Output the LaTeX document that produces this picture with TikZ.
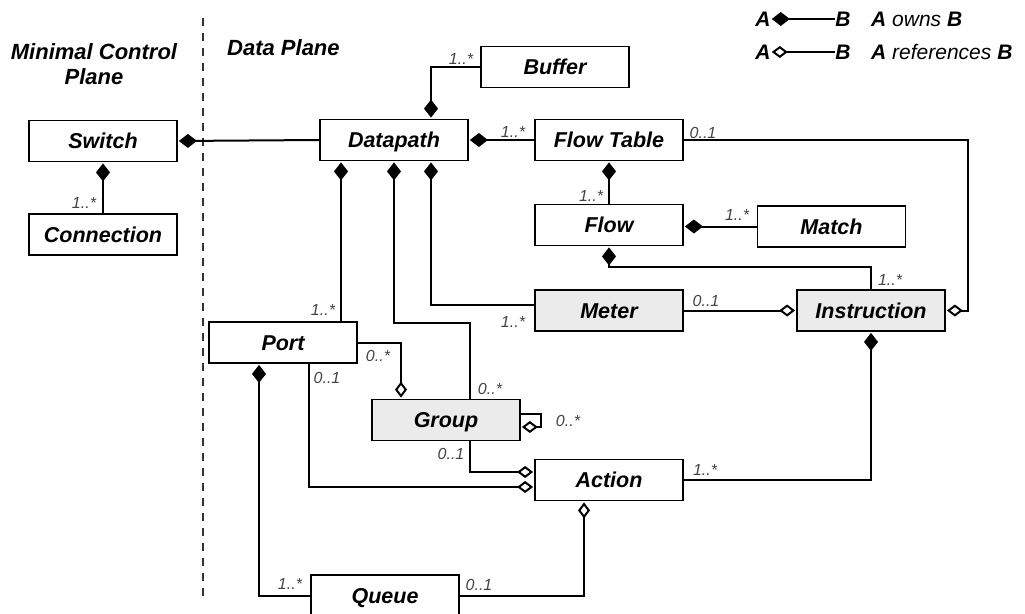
\documentclass[tikz,border=0pt]{standalone}
\usepackage{fontspec}
\setmainfont{Liberation Sans}
\usetikzlibrary{arrows.meta,calc}
\definecolor{boxgray}{HTML}{EBEBEB}
\definecolor{labgray}{HTML}{444444}
\tikzset{
  cls/.style={draw, line width=1.8pt, minimum width=148pt, minimum height=41pt, inner sep=0pt,
    font=\fontsize{21.5}{24}\selectfont\bfseries\itshape, text height=15.5pt, text depth=0pt},
  shaded/.style={cls, fill=boxgray},
  conn/.style={line width=2pt},
  owns/.style={conn, -{Diamond[length=18pt,width=14pt,sep=1pt]}},
  refs/.style={conn, -{Diamond[open,length=16pt,width=12pt,sep=1pt]}},
  mult/.style={inner sep=0pt, text=labgray, font=\fontsize{16}{18}\selectfont\itshape},
  ttl/.style={inner sep=0pt, font=\fontsize{22}{25}\selectfont\bfseries\itshape, align=center},
  leg/.style={inner sep=0pt, font=\fontsize{21}{24}\selectfont\bfseries\itshape},
}
\begin{document}
\begin{tikzpicture}[x=1pt,y=-1pt]
\useasboundingbox (0,0) rectangle (1025,613);
% titles and divider
\node[ttl] (tcp) at (94,64) {Minimal Control\\[0pt]Plane};
\node[ttl, anchor=west] (tdp) at (227,48) {Data Plane};
\coordinate (dtop) at (203,18);
\coordinate (dbot) at (203,600);
\draw[line width=2pt, dash pattern=on 8pt off 7pt, black!80] (dtop) -- (dbot);
% classes
\node[cls] (sw) at (103,141) {Switch};
\node[cls] (cn) at (103,234.5) {Connection};
\node[cls] (dp) at (394,140) {Datapath};
\node[cls] (buf) at (555,67) {Buffer};
\node[cls] (ft) at (609,140) {Flow Table};
\node[cls] (fl) at (609,225) {Flow};
\node[cls] (mt) at (831.5,226.5) {Match};
\node[shaded] (me) at (609,310.5) {Meter};
\node[shaded] (in) at (871,310.5) {Instruction};
\node[cls] (po) at (283,342.5) {Port};
\node[shaded] (gr) at (446,420) {Group};
\node[cls] (ac) at (609,480) {Action};
\node[cls] (qu) at (385,595.5) {Queue};
% connectors
\draw[owns] (dp.west) -- (sw.east);
\draw[owns] (cn.north) -- (sw.south);
\draw[owns] (buf.west) -| ([xshift=37]dp.north);
\draw[owns] (ft.west) -- (dp.east);
\draw[owns] (fl.north) -- (ft.south);
\draw[owns] (mt.west) -- (mt.west -| fl.east);
\draw[refs] (ft.east) -| ([xshift=22]in.east) -- (in.east);
\draw[owns] (in.north) -- ++(0,-22) -| (fl.south);
\draw[refs] (me.east) -- (in.west);
\draw[owns] ([yshift=6]me.west) -| ([xshift=37]dp.south);
\draw[owns] ([xshift=24]gr.north) -- ++(0,-75.5) -| (dp.south);
\draw[owns] ([xshift=58]po.north) -- ([xshift=58]po.north |- dp.south);
\draw[refs] (po.east) -| ([xshift=-45]gr.north);
\draw[refs] ([xshift=26]po.south) |- ([yshift=-7]ac.west);
\draw[refs] ([xshift=24]gr.south) |- ([yshift=8]ac.west);
\draw[refs] ([yshift=6]gr.east) -- ++(20,0) -- ++(0,13) -- ([yshift=-7]gr.east);
\draw[owns] (qu.west) -| ([xshift=-24]po.south);
\draw[refs] (qu.east) -| ([xshift=-25]ac.south);
\draw[owns] (ac.east) -| (in.south);
% multiplicities
\node[mult] (m1) at (84,203) {1..*};
\node[mult] (m2) at (461,59) {1..*};
\node[mult] (m3) at (513,132) {1..*};
\node[mult] (m4) at (591,196) {1..*};
\node[mult] (m5) at (703,133) {0..1};
\node[mult] (m6) at (737,215) {1..*};
\node[mult] (m7) at (890,280) {1..*};
\node[mult] (m8) at (706,301) {0..1};
\node[mult] (m9) at (705,470) {1..*};
\node[mult] (m10) at (323,310) {1..*};
\node[mult] (m11) at (513,322) {1..*};
\node[mult] (m12) at (378,356) {0..*};
\node[mult] (m13) at (327,378) {0..1};
\node[mult] (m14) at (490,389) {0..*};
\node[mult] (m15) at (568,421) {0..*};
\node[mult] (m16) at (451,454) {0..1};
\node[mult] (m17) at (290,584) {1..*};
\node[mult] (m18) at (479,585) {0..1};
% legend
\node[leg] (la1) at (763,19) {A};
\node[leg] (lb1) at (843,19) {B};
\draw[owns] (lb1.west) -- (la1.east);
\node[leg, anchor=west] (lt1) at (871,19) {A \mdseries owns \bfseries B};
\node[leg] (la2) at (763,52) {A};
\node[leg] (lb2) at (843,52) {B};
\draw[refs] (lb2.west) -- (la2.east);
\node[leg, anchor=west] (lt2) at (871,52) {A \mdseries references \bfseries B};
\end{tikzpicture}
\end{document}
